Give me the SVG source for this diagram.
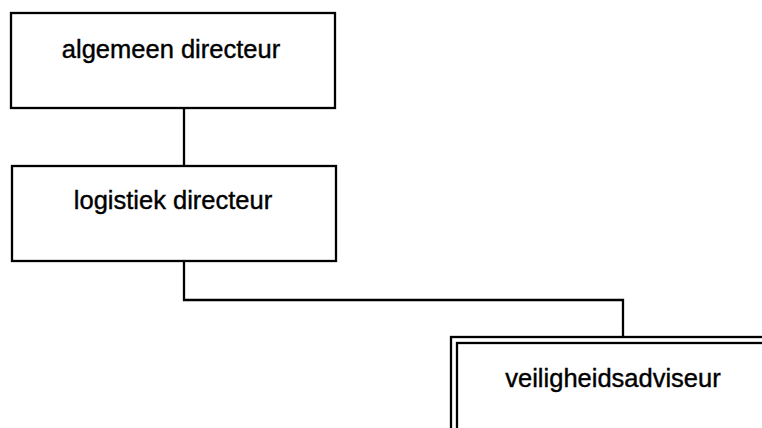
<svg xmlns="http://www.w3.org/2000/svg" width="762" height="428" viewBox="0 0 762 428">
<style>
.box{fill:#fff;stroke:#000;stroke-width:2.3}
.lbl{font-family:"Liberation Sans",Arial,sans-serif;font-size:25.5px;fill:#000;stroke:#000;stroke-width:0.4;text-anchor:middle}
.conn{fill:none;stroke:#000;stroke-width:2.3}
</style>
<rect width="762" height="428" fill="#fff"/>
<g id="connectors">
<path class="conn" d="M184 108 V166"/>
<path class="conn" d="M184 261 V300 H623 V337"/>
</g>
<g id="node-algemeen">
<rect class="box" x="11" y="13" width="324" height="95"/>
<text class="lbl" x="171" y="58">algemeen directeur</text>
</g>
<g id="node-logistiek">
<rect class="box" x="12" y="166" width="324" height="95"/>
<text class="lbl" x="173" y="209">logistiek directeur</text>
</g>
<g id="node-veiligheid">
<rect class="box" x="451" y="337" width="330" height="110"/>
<rect class="box" x="457" y="343" width="330" height="110"/>
<text class="lbl" x="613" y="387">veiligheidsadviseur</text>
</g>
</svg>
